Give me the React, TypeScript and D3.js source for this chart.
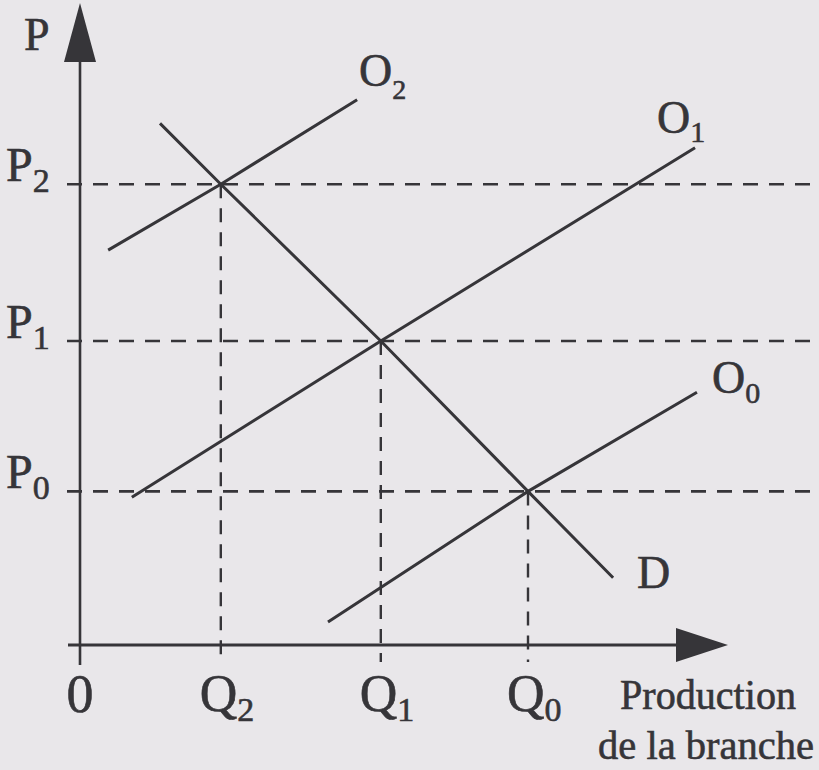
import React from "react";
import * as d3 from "d3";

// Supply / demand diagram: quantity of the branch (Q) vs price (P)
type Pt = { q: number; p: number };

const equilibriumQ = [2.2, 4.7, 7.0]; // Q2, Q1, Q0
const equilibriumP = [7.2, 4.75, 2.4]; // P2, P1, P0
const priceLabels = ["2", "1", "0"];
const quantityLabels = ["2", "1", "0"];

// Demand curve D
const demand: Pt[] = [
  { q: 1.25, p: 8.15 },
  { q: 2.2, p: 7.2 },
  { q: 4.7, p: 4.75 },
  { q: 7.0, p: 2.4 },
  { q: 8.33, p: 1.05 },
];

// Supply curves O2, O1, O0
const supplyO2: Pt[] = [
  { q: 0.44, p: 6.17 },
  { q: 2.2, p: 7.2 },
  { q: 4.33, p: 8.52 },
];
const supplyO1: Pt[] = [
  { q: 0.81, p: 2.31 },
  { q: 4.7, p: 4.75 },
  { q: 9.61, p: 7.77 },
];
const supplyO0: Pt[] = [
  { q: 3.875, p: 0.36 },
  { q: 7.0, p: 2.4 },
  { q: 9.64, p: 3.95 },
];

const W = 819;
const H = 770;
const INK = "#363539";
const BG = "#e9e7ea";
const FONT = "'Liberation Serif', 'Times New Roman', serif";

export default function App() {
  const x = d3.scaleLinear().domain([0, 10]).range([80, 720]);
  const y = d3.scaleLinear().domain([0, 10]).range([645, 5]);
  const line = d3
    .line<Pt>()
    .x((d) => x(d.q))
    .y((d) => y(d.p));

  const x0 = x(0);
  const y0 = y(0);

  const curves = [
    { data: supplyO2, name: "O", sub: "2", dx: 2, dy: -14, size: 46, subSize: 28, subDy: 13 },
    { data: supplyO1, name: "O", sub: "1", dx: -38, dy: -15, size: 46, subSize: 30, subDy: 9 },
    { data: supplyO0, name: "O", sub: "0", dx: 15, dy: 1, size: 46, subSize: 30, subDy: 10 },
    { data: demand, name: "D", sub: "", dx: 24, dy: 10, size: 46, subSize: 30, subDy: 0 },
  ];

  const textProps = { fill: INK, stroke: INK, strokeWidth: 0.6 };

  return (
    <svg
      width={W}
      height={H}
      viewBox={`0 0 ${W} ${H}`}
      style={{ position: "absolute", left: 0, top: 0, display: "block" }}
      fontFamily={FONT}
    >
      <rect x={0} y={0} width={W} height={H} fill={BG} />

      {/* horizontal price guides */}
      {equilibriumP.map((p, i) => (
        <line
          key={`hp${i}`}
          x1={x0 - 13}
          x2={W}
          y1={y(p)}
          y2={y(p)}
          stroke={INK}
          strokeWidth={2.6}
          strokeDasharray="15 11"
        />
      ))}

      {/* vertical quantity guides */}
      {equilibriumQ.map((q, i) => (
        <line
          key={`vq${i}`}
          x1={x(q)}
          x2={x(q)}
          y1={y(equilibriumP[i])}
          y2={y0 + 17}
          stroke={INK}
          strokeWidth={2.4}
          strokeDasharray="14 10"
        />
      ))}

      {/* axes */}
      <line x1={x0} x2={x0} y1={60} y2={y0 + 20} stroke={INK} strokeWidth={2.6} />
      <path d={`M${x0},3 L${x0 + 16},62 L${x0 - 16},62 Z`} fill={INK} />
      <line x1={x0 - 12} x2={680} y1={y0} y2={y0} stroke={INK} strokeWidth={3.2} />
      <path d={`M728,${y0} L676,${y0 - 17} L676,${y0 + 17} Z`} fill={INK} />

      {/* curves */}
      {curves.map((c, i) => {
        const end = c.data[c.data.length - 1];
        return (
          <g key={`c${i}`}>
            <path d={line(c.data) ?? ""} fill="none" stroke={INK} strokeWidth={3} />
            <text x={x(end.q) + c.dx} y={y(end.p) + c.dy} fontSize={c.size} {...textProps}>
              {c.name}
              {c.sub && (
                <tspan fontSize={c.subSize} dy={c.subDy}>
                  {c.sub}
                </tspan>
              )}
            </text>
          </g>
        );
      })}

      {/* axis titles */}
      <text x={24} y={50} fontSize={46} {...textProps}>
        P
      </text>
      {equilibriumP.map((p, i) => (
        <text key={`pl${i}`} x={6} y={y(p) - 3} fontSize={48} {...textProps}>
          P
          <tspan fontSize={34} dy={11}>
            {priceLabels[i]}
          </tspan>
        </text>
      ))}

      <text x={x0} y={712} fontSize={54} textAnchor="middle" {...textProps}>
        0
      </text>
      {equilibriumQ.map((q, i) => (
        <text key={`ql${i}`} x={x(q) - 21} y={711} fontSize={52} {...textProps}>
          Q
          <tspan fontSize={34} dy={10}>
            {quantityLabels[i]}
          </tspan>
        </text>
      ))}

      <text
        x={620}
        y={709}
        fontSize={42}
        textLength={176}
        lengthAdjust="spacingAndGlyphs"
        {...textProps}
      >
        Production
      </text>
      <text
        x={598}
        y={759}
        fontSize={41}
        textLength={216}
        lengthAdjust="spacingAndGlyphs"
        {...textProps}
      >
        de la branche
      </text>
    </svg>
  );
}
